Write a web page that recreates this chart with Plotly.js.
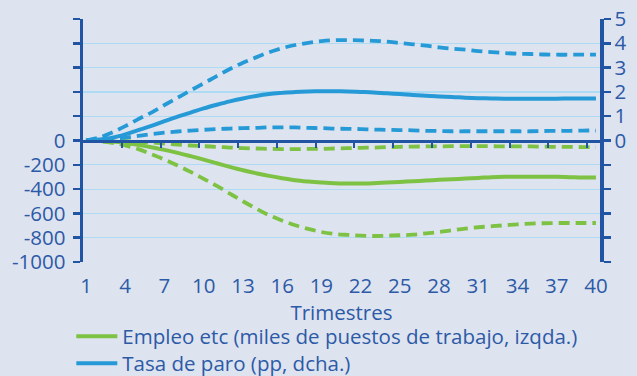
<!DOCTYPE html>
<html>
<head>
<meta charset="utf-8">
<script src="https://cdn.plot.ly/plotly-3.0.1.min.js"></script>
<style>
  html, body { margin: 0; padding: 0; background: #dee3f0; }
  #chart { width: 637px; height: 376px; }
</style>
</head>
<body>
<div id="chart"></div>
<script>
// Quarters
const quarters = Array.from({length: 40}, (_, i) => i + 1);
const xTickLabels = [1, 4, 7, 10, 13, 16, 19, 22, 25, 28, 31, 34, 37, 40];

// Employment (thousands of jobs, left axis)
const empleoCentral = [0, -3, -8, -19, -36, -55, -77, -102, -129, -157, -187, -217, -245, -269, -291, -310, -327, -338, -346, -352,
  -354, -354, -352, -346, -341, -335, -330, -324, -319, -313, -308, -302, -299, -299, -299, -299, -299, -302, -305, -305];
const empleoSuperior = [0, 0, -3, -5, -11, -16, -25, -33, -41, -47, -52, -58, -63, -66, -69, -71, -71, -69, -69, -66,
  -63, -60, -58, -55, -52, -50, -49, -48, -47, -47, -47, -47, -49, -49, -49, -51, -52, -52, -54, -55];
const empleoInferior = [0, -5, -19, -41, -71, -113, -157, -206, -258, -316, -374, -437, -500, -560, -615, -659, -698, -728, -753, -769,
  -777, -783, -786, -783, -780, -775, -764, -753, -739, -725, -714, -706, -698, -690, -684, -681, -679, -679, -679, -679];

// Unemployment rate (pp, right axis)
const paroCentral = [0, 0.04, 0.11, 0.25, 0.43, 0.60, 0.80, 0.98, 1.15, 1.32, 1.47, 1.61, 1.73, 1.83, 1.91, 1.96, 2.00, 2.02, 2.03, 2.03,
  2.02, 2.00, 1.98, 1.94, 1.91, 1.87, 1.84, 1.81, 1.79, 1.76, 1.74, 1.73, 1.72, 1.72, 1.72, 1.72, 1.72, 1.73, 1.73, 1.73];
const paroSuperior = [0, 0.12, 0.33, 0.59, 0.88, 1.15, 1.46, 1.76, 2.06, 2.35, 2.65, 2.94, 3.20, 3.42, 3.63, 3.80, 3.93, 4.02, 4.09, 4.13,
  4.13, 4.12, 4.10, 4.07, 4.01, 3.96, 3.90, 3.83, 3.78, 3.74, 3.68, 3.64, 3.60, 3.57, 3.56, 3.54, 3.53, 3.53, 3.53, 3.53];
const paroInferior = [0, 0.03, 0.07, 0.12, 0.19, 0.26, 0.32, 0.37, 0.41, 0.44, 0.47, 0.49, 0.51, 0.52, 0.54, 0.54, 0.54, 0.52, 0.51, 0.49,
  0.48, 0.47, 0.45, 0.44, 0.43, 0.42, 0.40, 0.39, 0.38, 0.38, 0.38, 0.38, 0.38, 0.38, 0.38, 0.39, 0.40, 0.40, 0.41, 0.41];

const leftTicks = [-1000, -800, -600, -400, -200, 0, 200, 400, 600, 800, 1000];
const leftTickText = ['-1000', '-800', '-600', '-400', '-200', '0', '', '', '', '', ''];
const rightTicks = [-5, -4, -3, -2, -1, 0, 1, 2, 3, 4, 5];
const rightTickText = ['', '', '', '', '', '0', '1', '2', '3', '4', '5'];

const nombreEmpleo = 'Empleo etc (miles de puestos de trabajo, izqda.)';
const nombreParo = 'Tasa de paro (pp, dcha.)';

const GREEN = '#7dc242';
const BLUE = '#259ad6';
const AXIS = '#2154a3';
const TEXT = '#2c5aa6';
const GRID = '#acdbf3';
const BG = '#dee3f0';
const FONT = 'Open Sans, sans-serif';

const xRange = [0.77, 40.31];
const catW = (xRange[1] - xRange[0]) / 40;
const zeroTicks = [];
for (let k = 3; k <= 39; k += 3) zeroTicks.push(xRange[0] + k * catW);

const lw = 3.8;
const dashStyle = '11px,6px';
const FS = 20.5;

const traces = [
  {x: quarters, y: empleoSuperior, xaxis: 'x', yaxis: 'y', mode: 'lines', line: {color: GREEN, width: lw, dash: dashStyle, shape: 'spline'}, showlegend: false, hoverinfo: 'skip'},
  {x: quarters, y: empleoInferior, xaxis: 'x', yaxis: 'y', mode: 'lines', line: {color: GREEN, width: lw, dash: dashStyle, shape: 'spline'}, showlegend: false, hoverinfo: 'skip'},
  {x: quarters, y: paroSuperior, xaxis: 'x2', yaxis: 'y2', mode: 'lines', line: {color: BLUE, width: lw, dash: dashStyle, shape: 'spline'}, showlegend: false, hoverinfo: 'skip'},
  {x: quarters, y: paroInferior, xaxis: 'x2', yaxis: 'y2', mode: 'lines', line: {color: BLUE, width: lw, dash: dashStyle, shape: 'spline'}, showlegend: false, hoverinfo: 'skip'},
  {x: quarters, y: empleoCentral, xaxis: 'x', yaxis: 'y', mode: 'lines', name: nombreEmpleo, line: {color: GREEN, width: 4, shape: 'spline'}, legend: 'legend'},
  {x: quarters, y: paroCentral, xaxis: 'x2', yaxis: 'y2', mode: 'lines', name: nombreParo, line: {color: BLUE, width: 4, shape: 'spline'}, legend: 'legend2'}
];

const legendBase = {
  orientation: 'v', xanchor: 'left', yanchor: 'top', itemwidth: 41,
  bgcolor: 'rgba(0,0,0,0)', font: {family: FONT, size: FS, color: TEXT}
};

const layout = {
  width: 637, height: 376,
  margin: {l: 83, r: 37, t: 19, b: 114, autoexpand: false},
  paper_bgcolor: BG, plot_bgcolor: BG,
  font: {family: FONT, size: FS, color: TEXT},
  showlegend: true,
  legend: Object.assign({}, legendBase, {x: -0.0226, y: -0.224}),
  legend2: Object.assign({}, legendBase, {x: -0.0226, y: -0.335}),
  xaxis: {
    range: xRange, showgrid: false, zeroline: false, showline: false, automargin: false,
    tickmode: 'array', tickvals: xTickLabels, ticktext: xTickLabels.map(String),
    ticks: '', ticklabelstandoff: 9,
    tickfont: {family: FONT, size: FS, color: TEXT},
    title: {text: 'Trimestres', font: {family: FONT, size: FS, color: TEXT}, standoff: 4}
  },
  xaxis2: {
    range: xRange, overlaying: 'x', anchor: 'free', position: 0.5, automargin: false,
    showgrid: false, zeroline: false, showline: true, linecolor: AXIS, linewidth: 3,
    tickmode: 'array', tickvals: zeroTicks, ticks: 'outside', ticklen: 5, tickwidth: 2, tickcolor: AXIS,
    showticklabels: false
  },
  yaxis: {
    range: [-1000, 1000], tickmode: 'array', tickvals: leftTicks, ticktext: leftTickText, automargin: false,
    showgrid: true, gridcolor: GRID, gridwidth: 1.2, zeroline: false,
    showline: true, linecolor: AXIS, linewidth: 3.5,
    ticks: 'outside', ticklen: 7, tickwidth: 2.5, tickcolor: AXIS, ticklabelstandoff: 3,
    tickfont: {family: FONT, size: FS, color: TEXT}
  },
  yaxis2: {
    range: [-5, 5], overlaying: 'y', side: 'right', anchor: 'x2', automargin: false,
    tickmode: 'array', tickvals: rightTicks, ticktext: rightTickText,
    showgrid: false, zeroline: false,
    showline: true, linecolor: AXIS, linewidth: 3.5,
    ticks: 'outside', ticklen: 7, tickwidth: 2.5, tickcolor: AXIS, ticklabelstandoff: 0,
    tickfont: {family: FONT, size: FS, color: TEXT}
  }
};

Plotly.newPlot('chart', traces, layout, {displayModeBar: false, staticPlot: true});
</script>
</body>
</html>
